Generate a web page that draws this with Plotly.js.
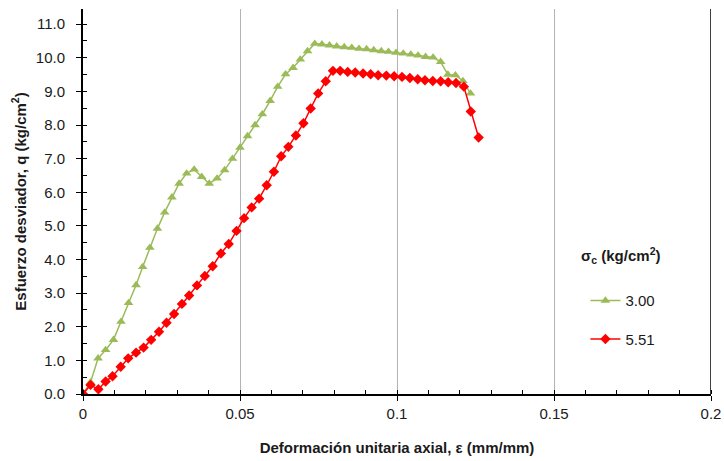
<!DOCTYPE html>
<html>
<head>
<meta charset="utf-8">
<script src="https://cdn.plot.ly/plotly-3.0.1.min.js"></script>
<style>html,body{margin:0;padding:0;background:#fff;}#chart{width:724px;height:461px;}</style>
</head>
<body>
<div id="chart"></div>
<script>
// Series 1: sigma_c = 3.00 kg/cm2
const strain300 = [0, 0.0024, 0.0048, 0.0072, 0.0097, 0.0121, 0.0145, 0.0169, 0.0190, 0.0213, 0.0237, 0.0260, 0.0283, 0.0306, 0.0330, 0.0354, 0.0378, 0.0402, 0.0427, 0.0451, 0.0476, 0.0500, 0.0524, 0.0548, 0.0571, 0.0596, 0.0620, 0.0645, 0.0669, 0.0692, 0.0715, 0.0738, 0.0761, 0.0785, 0.0808, 0.0832, 0.0856, 0.0879, 0.0903, 0.0926, 0.0950, 0.0973, 0.0997, 0.1020, 0.1044, 0.1067, 0.1091, 0.1115, 0.1139, 0.1162, 0.1186, 0.1210, 0.1234];
const q300 = [0, 0.35, 1.06, 1.31, 1.61, 2.15, 2.71, 3.24, 3.78, 4.35, 4.92, 5.40, 5.85, 6.26, 6.56, 6.68, 6.46, 6.26, 6.41, 6.66, 7.00, 7.33, 7.67, 8.00, 8.32, 8.72, 9.14, 9.51, 9.70, 9.95, 10.20, 10.42, 10.40, 10.37, 10.34, 10.32, 10.30, 10.27, 10.26, 10.23, 10.20, 10.18, 10.15, 10.13, 10.10, 10.07, 10.03, 10.01, 9.88, 9.50, 9.48, 9.31, 8.94];

// Series 2: sigma_c = 5.51 kg/cm2
const strain551 = [0, 0.0024, 0.0049, 0.0072, 0.0094, 0.0120, 0.0144, 0.0169, 0.0193, 0.0217, 0.0242, 0.0266, 0.0290, 0.0315, 0.0338, 0.0363, 0.0388, 0.0413, 0.0439, 0.0464, 0.0489, 0.0513, 0.0537, 0.0561, 0.0585, 0.0608, 0.0631, 0.0654, 0.0678, 0.0702, 0.0725, 0.0749, 0.0773, 0.0796, 0.0819, 0.0843, 0.0867, 0.0892, 0.0916, 0.0940, 0.0966, 0.0991, 0.1016, 0.1041, 0.1066, 0.1089, 0.1114, 0.1139, 0.1163, 0.1188, 0.1213, 0.1235, 0.1260];
const q551 = [0, 0.27, 0.14, 0.37, 0.53, 0.81, 1.06, 1.23, 1.38, 1.61, 1.85, 2.12, 2.38, 2.68, 2.93, 3.23, 3.51, 3.80, 4.18, 4.46, 4.85, 5.23, 5.55, 5.81, 6.21, 6.61, 7.07, 7.35, 7.69, 8.05, 8.49, 8.94, 9.30, 9.61, 9.61, 9.58, 9.56, 9.53, 9.51, 9.48, 9.47, 9.45, 9.43, 9.40, 9.36, 9.33, 9.31, 9.30, 9.27, 9.25, 9.14, 8.40, 7.63];

const seriesNames = ["3.00", "5.51"];
const legendTitle = "σ<sub>c</sub> (kg/cm<sup>2</sup>)";
const xTitle = "Deformación unitaria axial, ε (mm/mm)";
const yTitle = "Esfuerzo desviador, q (kg/cm<sup>2</sup>)";

const FONT = "Liberation Sans, Arial, sans-serif";
const FS = 15;

const traces = [
  {
    x: strain300, y: q300, name: seriesNames[0], legendgroup: "a",
    type: "scatter", mode: "lines+markers",
    line: {color: "#9BBB59", width: 1.5},
    marker: {symbol: "triangle-up", size: 8.5, color: "#9BBB59"}
  },
  {
    x: strain551, y: q551, name: seriesNames[1], legendgroup: "b",
    type: "scatter", mode: "lines+markers",
    line: {color: "#FF0000", width: 1.5},
    marker: {symbol: "diamond", size: 8, color: "#FF0000"}
  }
];

const layout = {
  width: 724, height: 461,
  margin: {l: 83, r: 13, t: 9, b: 67},
  paper_bgcolor: "#ffffff", plot_bgcolor: "#ffffff",
  font: {family: FONT, size: FS, color: "#1a1a1a"},
  showlegend: true,
  legend: {
    x: 0.800, y: 0.285, xanchor: "left", yanchor: "top",
    font: {family: FONT, size: FS, color: "#1a1a1a"},
    tracegroupgap: 16, traceorder: "grouped",
    bgcolor: "rgba(0,0,0,0)", itemwidth: 30
  },
  xaxis: {
    range: [0, 0.2],
    tickvals: [0, 0.05, 0.1, 0.15, 0.2],
    ticktext: ["0", "0.05", "0.1", "0.15", "0.2"],
    showgrid: true, gridcolor: "#b4b4b4", gridwidth: 1,
    zeroline: false,
    showline: true, linecolor: "#000", linewidth: 2,
    ticks: "outside", ticklen: 5, tickwidth: 1, tickcolor: "#000",
    ticklabelstandoff: 0,
    minor: {dtick: 0.01, tick0: 0, ticks: "inside", ticklen: 4, tickcolor: "#000", showgrid: false},
    title: {text: "<b>" + xTitle + "</b>", font: {family: FONT, size: FS, color: "#1a1a1a"}, standoff: 21}
  },
  yaxis: {
    range: [0, 11.45],
    tickvals: [0,1,2,3,4,5,6,7,8,9,10,11],
    tickformat: ".1f",
    showgrid: false, zeroline: false,
    showline: true, linecolor: "#000", linewidth: 2,
    ticks: "outside", ticklen: 5, tickwidth: 1, tickcolor: "#000",
    ticklabelstandoff: 8,
    minor: {dtick: 0.5, tick0: 0, ticks: "inside", ticklen: 4, tickcolor: "#000", showgrid: false},
    title: {text: "<b>" + yTitle + "</b>", font: {family: FONT, size: FS, color: "#1a1a1a"}, standoff: 6}
  },
  shapes: [
    {type: "line", xref: "x", yref: "paper", x0: 0.2, x1: 0.2, y0: 0, y1: 1,
     line: {color: "#404040", width: 2}}
  ],
  annotations: [
    {text: "<b>" + legendTitle + "</b>", xref: "paper", yref: "paper",
     x: 0.856, y: 0.359, xanchor: "center", yanchor: "middle", showarrow: false,
     font: {family: FONT, size: FS, color: "#1a1a1a"}}
  ]
};

Plotly.newPlot("chart", traces, layout, {displayModeBar: false, staticPlot: true});
</script>
</body>
</html>
